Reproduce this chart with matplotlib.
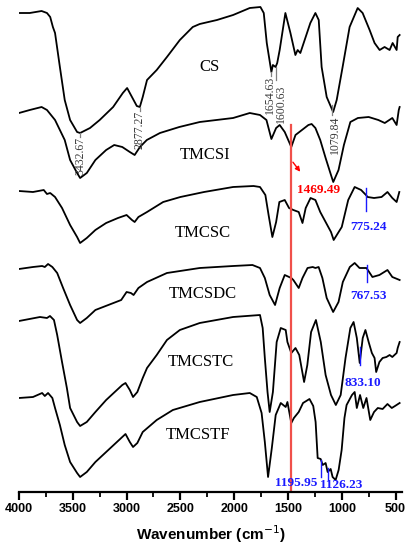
import numpy as np
import matplotlib
matplotlib.use('Agg')
import matplotlib.pyplot as plt
from matplotlib.ticker import MultipleLocator

# FTIR spectra, transmittance (a.u.) relative to each trace's start level
names = ['CS', 'TMCSI', 'TMCSC', 'TMCSDC', 'TMCSTC', 'TMCSTF']

cs_w = [4000, 3900, 3790, 3740, 3710, 3685, 3665, 3620, 3575, 3525, 3460, 3432, 3340, 3250, 3125, 3035,
        2995, 2950, 2905, 2877, 2850, 2810, 2720, 2625, 2505, 2385, 2320, 2160, 2010, 1855, 1756, 1725,
        1697, 1654, 1640, 1615, 1600, 1577, 1524, 1477, 1431, 1410, 1385, 1354, 1292, 1245, 1214, 1187,
        1140, 1080, 1047, 992, 927, 852, 806, 741, 695, 648, 602, 555, 527, 490, 480, 462]
cs_t = [0, 0, 2, 0, -4, -14, -20, -54, -87, -107, -119, -120, -115, -107, -94, -80,
        -75, -84, -93, -94, -84, -67, -57, -44, -27, -14, -11, -7, -2, 5, 6, 0,
        -30, -59, -52, -54, -50, -37, 0, -20, -42, -37, -40, -30, -10, 0, -7, -54,
        -84, -99, -87, -54, -14, 5, 0, -17, -30, -37, -34, -37, -30, -37, -24, -22]

tmcsi_w = [4000, 3900, 3790, 3740, 3665, 3575, 3525, 3460, 3432, 3370, 3290, 3190, 3115, 3040, 2970, 2925,
           2876, 2812, 2690, 2510, 2320, 2010, 1855, 1760, 1700, 1654, 1610, 1577, 1530, 1469, 1430, 1370,
           1310, 1280, 1245, 1200, 1150, 1100, 1079, 1030, 980, 920, 850, 750, 660, 600, 530, 490, 470, 462]
tmcsi_t = [0, 3, 6, 3, -7, -27, -47, -60, -65, -60, -47, -37, -32, -34, -39, -42,
           -34, -27, -20, -14, -9, -5, 0, -2, -7, -26, -15, -12, -19, -34, -22, -17,
           -12, -11, -15, -27, -45, -62, -69, -57, -32, -9, -5, -4, -7, -10, -5, -12, 3, 6]

tmcsc_w = [4000, 3870, 3770, 3740, 3710, 3665, 3600, 3525, 3460, 3432, 3370, 3290, 3190, 3080, 3000, 2950,
           2925, 2890, 2810, 2660, 2500, 2280, 2010, 1820, 1760, 1710, 1680, 1645, 1610, 1580, 1530, 1490,
           1450, 1400, 1365, 1335, 1290, 1245, 1200, 1150, 1100, 1075, 1000, 940, 880, 820, 775, 760,
           700, 630, 575, 530, 490, 465]
tmcsc_t = [0, -1, 1, -3, -2, -6, -17, -34, -46, -52, -47, -39, -32, -27, -24, -29,
           -31, -26, -21, -11, -6, -1, 4, 5, 4, -4, -24, -46, -31, -11, -9, -17,
           -19, -21, -32, -17, -7, -9, -21, -31, -41, -49, -36, -9, 4, 1, -4, -6,
           -7, -6, -1, -7, -11, -1]

tmcsdc_w = [4000, 3870, 3785, 3760, 3730, 3690, 3645, 3590, 3525, 3460, 3432, 3370, 3290, 3170, 3050, 3000,
            2960, 2935, 2890, 2810, 2625, 2320, 2010, 1830, 1760, 1715, 1670, 1620, 1577, 1530, 1469, 1450,
            1400, 1365, 1318, 1270, 1245, 1215, 1180, 1140, 1080, 1030, 990, 925, 880, 835, 770, 715,
            650, 575, 530, 462]
tmcsdc_t = [0, 2, 3, 2, 5, 2, -4, -19, -36, -51, -54, -49, -41, -36, -31, -23,
            -24, -26, -19, -13, -4, 1, 3, 4, 1, -9, -26, -36, -19, -6, -9, -11,
            -19, -9, 1, 2, 1, 2, -9, -29, -43, -33, -13, 2, 6, 1, 1, -8,
            -6, -1, -8, -11]

tmcstc_w = [4000, 3805, 3740, 3712, 3675, 3645, 3600, 3555, 3525, 3460, 3432, 3370, 3290, 3190, 3120, 3040,
            3010, 2970, 2940, 2900, 2850, 2810, 2720, 2625, 2505, 2320, 2010, 1760, 1735, 1715, 1690, 1670,
            1640, 1605, 1567, 1521, 1505, 1469, 1430, 1395, 1350, 1320, 1285, 1240, 1195, 1150, 1100, 1055,
            1010, 965, 920, 890, 860, 833, 805, 780, 750, 720, 695, 680, 650, 620, 585, 555,
            530, 490, 480, 462]
tmcstc_t = [0, 4, 3, 5, 1, -14, -41, -67, -87, -101, -105, -101, -91, -79, -72, -64,
            -62, -69, -76, -71, -57, -47, -34, -19, -9, -2, 4, 6, -7, -37, -71, -91,
            -71, -21, -7, -9, -21, -32, -27, -34, -61, -44, -11, 1, -21, -54, -74, -84,
            -74, -37, -7, -1, -17, -42, -17, -9, -21, -32, -37, -51, -41, -37, -36, -34,
            -36, -32, -27, -21]

tmcstf_w = [4000, 3870, 3785, 3760, 3730, 3690, 3665, 3620, 3575, 3525, 3460, 3432, 3370, 3290, 3190, 3120,
            3040, 3010, 2970, 2940, 2900, 2850, 2720, 2570, 2320, 2010, 1855, 1790, 1745, 1715, 1685, 1650,
            1614, 1567, 1521, 1505, 1469, 1445, 1400, 1360, 1300, 1265, 1243, 1224, 1196, 1177, 1150, 1131,
            1103, 1085, 1057, 1029, 1001, 975, 955, 905, 880, 860, 830, 800, 770, 735, 700, 665,
            620, 575, 535, 505, 462]
tmcstf_t = [0, 1, 5, 2, 5, 0, -10, -27, -47, -64, -75, -79, -74, -64, -54, -47,
            -39, -36, -44, -49, -45, -34, -22, -12, -4, 3, 5, 1, -15, -44, -79, -50,
            -17, -5, -9, -4, -25, -20, -14, -5, -1, -8, -24, -60, -61, -67, -65, -74,
            -71, -79, -82, -72, -52, -20, -7, 3, 6, -10, 3, -10, 0, -22, -14, -10,
            -11, -6, -10, -8, -5]

spectra = [(cs_w, cs_t), (tmcsi_w, tmcsi_t), (tmcsc_w, tmcsc_t),
           (tmcsdc_w, tmcsdc_t), (tmcstc_w, tmcstc_t), (tmcstf_w, tmcstf_t)]

offsets = [479, 379, 301, 223, 171, 94]
name_x = [2227, 2273, 2292, 2292, 2305, 2338]
name_y = [425, 337, 259, 198, 130, 57]

# peak labels (black, rotated) on CS / TMCSI
cs_peaks = ['3432.67', '2877.27', '1654.63', '1600.63', '1079.84']
red_peak = 1469.49
blue_peaks = [('775.24', 2), ('767.53', 3), ('833.10', 4), ('1195.95', 5), ('1126.23', 5)]

plt.rcParams['font.family'] = ['Liberation Serif', 'DejaVu Serif']

fig = plt.figure(figsize=(4.08, 5.5), dpi=100)
ax = fig.add_axes([19 / 408, 58 / 550, 383 / 408, 492 / 550])
ax.set_xlim(4000, 440)
ax.set_ylim(0, 492)

for (w, t), off in zip(spectra, offsets):
    ax.plot(w, off + np.array(t), color='black', lw=1.3, solid_joinstyle='round')

for nm, x, y in zip(names, name_x, name_y):
    ax.text(x, y, nm, fontsize=12, ha='center', va='center')

gray = '#3a3a3a'
cs_top = [359, 385, 420, 411, 380]
cs_lab_x = [3432.67, 2877.27, 1672, 1562, 1060]
cs_tick = [(3432.67, 359, 355), (2877.27, 385, 381), (1654.63, 420, 416), (1610, 425, 412), (1090, 387, 377)]
for lab, lx, top in zip(cs_peaks, cs_lab_x, cs_top):
    ax.text(lx, top - 4, lab, rotation=90, fontsize=8.5, color=gray, ha='center', va='top')
for x0, y0, y1 in cs_tick:
    ax.plot([x0, x0], [y0, y1], color='gray', lw=0.9)

# red marker line
ax.plot([red_peak, red_peak], [0, 367], color='#f0504a', lw=1.6)
ax.annotate('', xy=(1370, 318), xytext=(red_peak, 332),
            arrowprops=dict(arrowstyle='-|>', color='red', lw=1, mutation_scale=7))
ax.text(1213, 302, '%.2f' % red_peak, color='red', fontsize=9.5, fontweight='bold',
        ha='center', va='center')

# blue peak annotations
blue = '#1a1aff'
blue_line = [(281, 304), (210, 227), (127, 145), (15, 32), (12, 24)]
blue_txt = [(750, 265), (750, 196), (804, 109), (1422, 9), (1004, 7)]
for (lab, k), (y0, y1), (tx, ty) in zip(blue_peaks, blue_line, blue_txt):
    pk = float(lab)
    ax.plot([pk, pk], [y0, y1], color=blue, lw=1)
    ax.text(tx, ty, lab, color=blue, fontsize=9.5, fontweight='bold', ha='center', va='center')

for s in ['left', 'right', 'top']:
    ax.spines[s].set_visible(False)
ax.spines['bottom'].set_linewidth(1.6)
ax.set_yticks([])
ax.xaxis.set_major_locator(MultipleLocator(500))
ax.xaxis.set_minor_locator(MultipleLocator(250))
ax.tick_params(axis='x', which='major', direction='out', length=6, width=1.6, pad=2)
ax.tick_params(axis='x', which='minor', direction='out', length=3.5, width=1.3)
for lbl in ax.get_xticklabels():
    lbl.set_fontfamily('Liberation Sans')
    lbl.set_fontweight('bold')
    lbl.set_fontsize(9)
ax.set_xlabel('Wavenumber (cm$^{-1}$)', fontsize=11, fontweight='bold',
              fontfamily='Liberation Sans', labelpad=6)
ax.patch.set_visible(False)

fig.savefig('out.png', dpi=100)
